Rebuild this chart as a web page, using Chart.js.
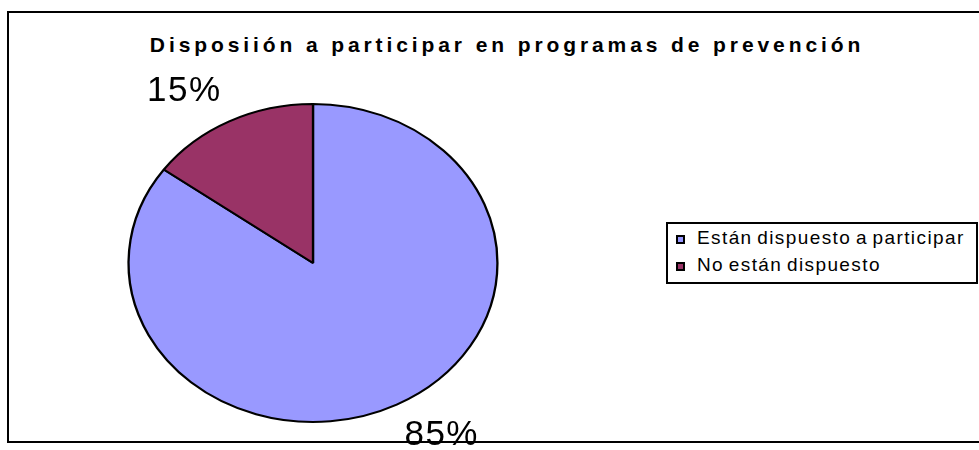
<!DOCTYPE html>
<html>
<head>
<meta charset="utf-8">
<script src="https://cdn.jsdelivr.net/npm/chart.js@4/dist/chart.umd.min.js"></script>
<style>
  html, body { margin: 0; padding: 0; background: #fff; overflow: hidden; }
  #wrap { position: relative; width: 979px; height: 450px; overflow: hidden; }
  #frame {
    position: absolute; left: 7px; top: 11px; width: 1020px; height: 432px;
    border: 2px solid #000; box-sizing: border-box;
  }
  #title {
    position: absolute; left: 0; top: 34px; width: 1014px; text-align: center;
    font: bold 21px "Liberation Sans", Arial, sans-serif; line-height: 21px;
    letter-spacing: 3.9px; color: #000; white-space: nowrap;
  }
  #legend {
    position: absolute; left: 666px; top: 222px; width: 312px; height: 62px;
    border: 2px solid #000; box-sizing: border-box; padding: 3px 0 0 8px; background: #fff;
  }
  #legend .row {
    height: 27px; line-height: 27px; white-space: nowrap;
    font: 19px "Liberation Sans", Arial, sans-serif; letter-spacing: 1.4px; word-spacing: -2px; color: #000;
  }
  #legend .box {
    display: inline-block; width: 9px; height: 9px; border: 2px solid #000;
    box-sizing: border-box; margin-right: 12px; vertical-align: 0px;
  }
  canvas { position: absolute; left: 0; top: 0; }
</style>
</head>
<body>
<div id="wrap">
  <div id="frame"></div>
  <div id="title">Disposiión a participar en programas de prevención</div>
  <canvas id="pie-chart" width="979" height="450"></canvas>
  <div id="legend"></div>
</div>
<script>
var categories = ["Están dispuesto a participar", "No están dispuesto"];
var percentages = [85, 15];
var sliceColors = ["#9999FF", "#993366"];

// Excel draws this pie a bit wider than it is tall
var stretchX = 1.16;

var ellipsePlugin = {
  id: 'ellipse',
  beforeDatasetsDraw: function(chart) {
    var arc = chart.getDatasetMeta(0).data[0];
    var ctx = chart.ctx;
    ctx.save();
    ctx.translate(arc.x, arc.y);
    ctx.scale(stretchX, 1);
    ctx.translate(-arc.x, -arc.y);
  },
  afterDatasetsDraw: function(chart) {
    chart.ctx.restore();
  }
};

// percentage labels outside each slice
var outsideLabels = {
  id: 'outsideLabels',
  afterDatasetsDraw: function(chart) {
    var ctx = chart.ctx;
    var data = chart.data.datasets[0].data;
    var total = data.reduce(function(a, b) { return a + b; }, 0);
    ctx.save();
    ctx.font = '35px "Liberation Sans", Arial, sans-serif';
    ctx.letterSpacing = '1.5px';
    ctx.fillStyle = '#000';
    ctx.textAlign = 'center';
    ctx.textBaseline = 'middle';
    chart.getDatasetMeta(0).data.forEach(function(arc, i) {
      var text = Math.round(data[i] / total * 100) + '%';
      var mid = (arc.startAngle + arc.endAngle) / 2;
      var dist = arc.outerRadius + 34;
      var w = ctx.measureText(text).width;
      var x = arc.x + Math.cos(mid) * dist * stretchX + Math.cos(mid) * w * 0.8;
      var y = arc.y + Math.sin(mid) * dist;
      ctx.fillText(text, x, y);
    });
    ctx.restore();
  }
};

var chart = new Chart(document.getElementById("pie-chart"), {
  type: 'pie',
  data: {
    labels: categories,
    datasets: [{
      data: percentages,
      backgroundColor: sliceColors,
      borderColor: '#000',
      borderWidth: 2,
      clip: false
    }]
  },
  options: {
    responsive: false,
    animation: false,
    layout: { padding: { left: 153, right: 506, top: 103, bottom: 27 } },
    plugins: {
      legend: { display: false },
      title: { display: false },
      tooltip: { enabled: false }
    }
  },
  plugins: [ellipsePlugin, outsideLabels]
});

// legend in html, built from the chart's own legend items
var items = chart.options.plugins.legend.labels.generateLabels(chart);
var legendEl = document.getElementById('legend');
items.forEach(function(item) {
  var row = document.createElement('div');
  row.className = 'row';
  var box = document.createElement('span');
  box.className = 'box';
  box.style.background = item.fillStyle;
  row.appendChild(box);
  row.appendChild(document.createTextNode(item.text));
  legendEl.appendChild(row);
});
</script>
</body>
</html>
